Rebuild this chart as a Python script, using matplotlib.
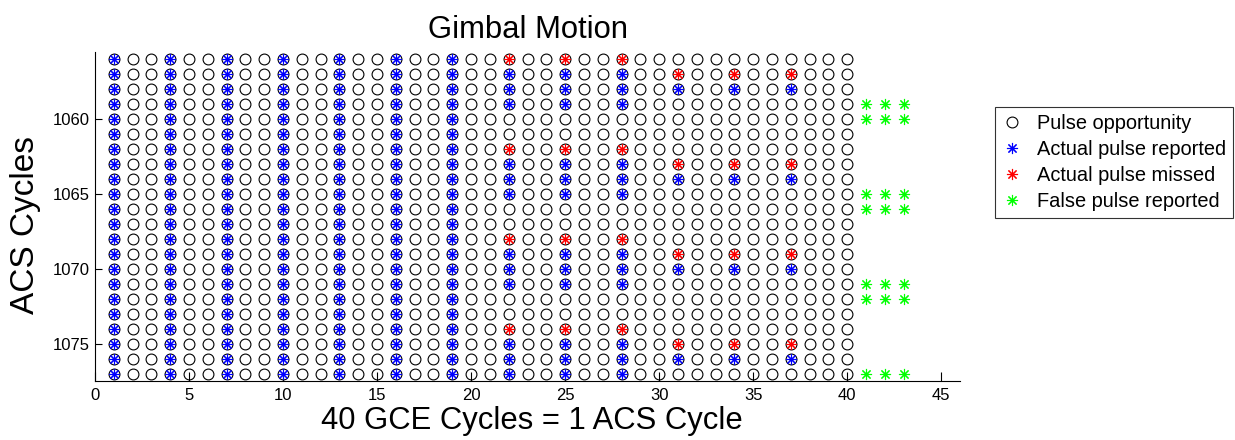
import matplotlib
matplotlib.use("Agg")
import matplotlib.pyplot as plt
from matplotlib.lines import Line2D

plt.rcParams['font.family'] = ['Liberation Sans', 'DejaVu Sans']

# GCE cycle index (x) and ACS cycle number (y)
gce_cycles = list(range(1, 41))
acs_cycles = list(range(1056, 1078))

# Columns where every ACS cycle gets its pulse reported
steady_cols = [1, 4, 7, 10, 13, 16, 19]

# First drifting group
group_a_cols = [22, 25, 28]
group_a_reported = [1057, 1058, 1059, 1063, 1064, 1065, 1069, 1070, 1071, 1075, 1076, 1077]
group_a_missed = [1056, 1062, 1068, 1074]

# Second drifting group
group_b_cols = [31, 34, 37]
group_b_reported = [1058, 1064, 1070, 1076]
group_b_missed = [1057, 1063, 1069, 1075]

# False pulses beyond the last opportunity
false_cols = [41, 42, 43]
false_rows = [1059, 1060, 1065, 1066, 1071, 1072, 1077]

ASTERISK = (8, 2, 0)


def grid(cols, rows):
    xs, ys = [], []
    for c in cols:
        for r in rows:
            xs.append(c)
            ys.append(r)
    return xs, ys


fig = plt.figure(figsize=(12.35, 4.4), dpi=100)
ax = fig.add_axes([95 / 1235, 1 - 381 / 440, 865 / 1235, 329.5 / 440])

# Pulse opportunities
ox, oy = grid(gce_cycles, acs_cycles)
ax.plot(ox, oy, linestyle='none', marker='o', markersize=7.8,
        markerfacecolor='none', markeredgecolor='black', markeredgewidth=0.8)

# Reported pulses
rx, ry = grid(steady_cols, acs_cycles)
ax_, ay_ = grid(group_a_cols, group_a_reported)
bx_, by_ = grid(group_b_cols, group_b_reported)
ax.plot(rx + ax_ + bx_, ry + ay_ + by_, linestyle='none', marker=ASTERISK,
        markersize=8, color=(0, 0, 1), markeredgewidth=0.8)

# Missed pulses
mx1, my1 = grid(group_a_cols, group_a_missed)
mx2, my2 = grid(group_b_cols, group_b_missed)
ax.plot(mx1 + mx2, my1 + my2, linestyle='none', marker=ASTERISK,
        markersize=8, color=(1, 0, 0), markeredgewidth=0.8)

# False pulses
fx, fy = grid(false_cols, false_rows)
ax.plot(fx, fy, linestyle='none', marker=ASTERISK,
        markersize=8, color=(0, 1, 0), markeredgewidth=0.8)

ax.set_xlim(0, 46)
ax.set_ylim(1077.5, 1055.5)
ax.set_xticks(range(0, 46, 5))
ax.set_yticks([1060, 1065, 1070, 1075])

for side in ('top', 'right'):
    ax.spines[side].set_visible(False)
for side in ('left', 'bottom'):
    ax.spines[side].set_linewidth(0.8)

ax.tick_params(axis='x', direction='in', length=6.5, width=0.8, labelsize=12, pad=5)
ax.tick_params(axis='y', direction='in', length=5, width=0.8, labelsize=12, pad=4)

ax.set_title('Gimbal Motion', fontsize=22.3, pad=10)
ax.set_xlabel('40 GCE Cycles = 1 ACS Cycle', fontsize=22.3)
ax.set_ylabel('ACS Cycles', fontsize=24)
ax.xaxis.set_label_coords(0.505, -0.077)
ax.yaxis.set_label_coords(-0.0625, 0.473)

handles = [
    Line2D([], [], linestyle='none', marker='o', markersize=7.8,
           markerfacecolor='none', markeredgecolor='black', markeredgewidth=0.8),
    Line2D([], [], linestyle='none', marker=ASTERISK, markersize=8,
           color=(0, 0, 1), markeredgewidth=0.8),
    Line2D([], [], linestyle='none', marker=ASTERISK, markersize=8,
           color=(1, 0, 0), markeredgewidth=0.8),
    Line2D([], [], linestyle='none', marker=ASTERISK, markersize=8,
           color=(0, 1, 0), markeredgewidth=0.8),
]
labels = ['Pulse opportunity', 'Actual pulse reported',
          'Actual pulse missed', 'False pulse reported']
leg = fig.legend(handles, labels, loc='upper left',
                 bbox_to_anchor=(995 / 1235, 1 - 107 / 440),
                 fontsize=14.4, frameon=True, fancybox=False, shadow=False,
                 borderpad=0.35, handlelength=1.0, handletextpad=0.75,
                 labelspacing=0.35, borderaxespad=0, numpoints=1)
leg.get_frame().set_edgecolor('black')
leg.get_frame().set_linewidth(0.8)

fig.savefig('out.png', dpi=100)
